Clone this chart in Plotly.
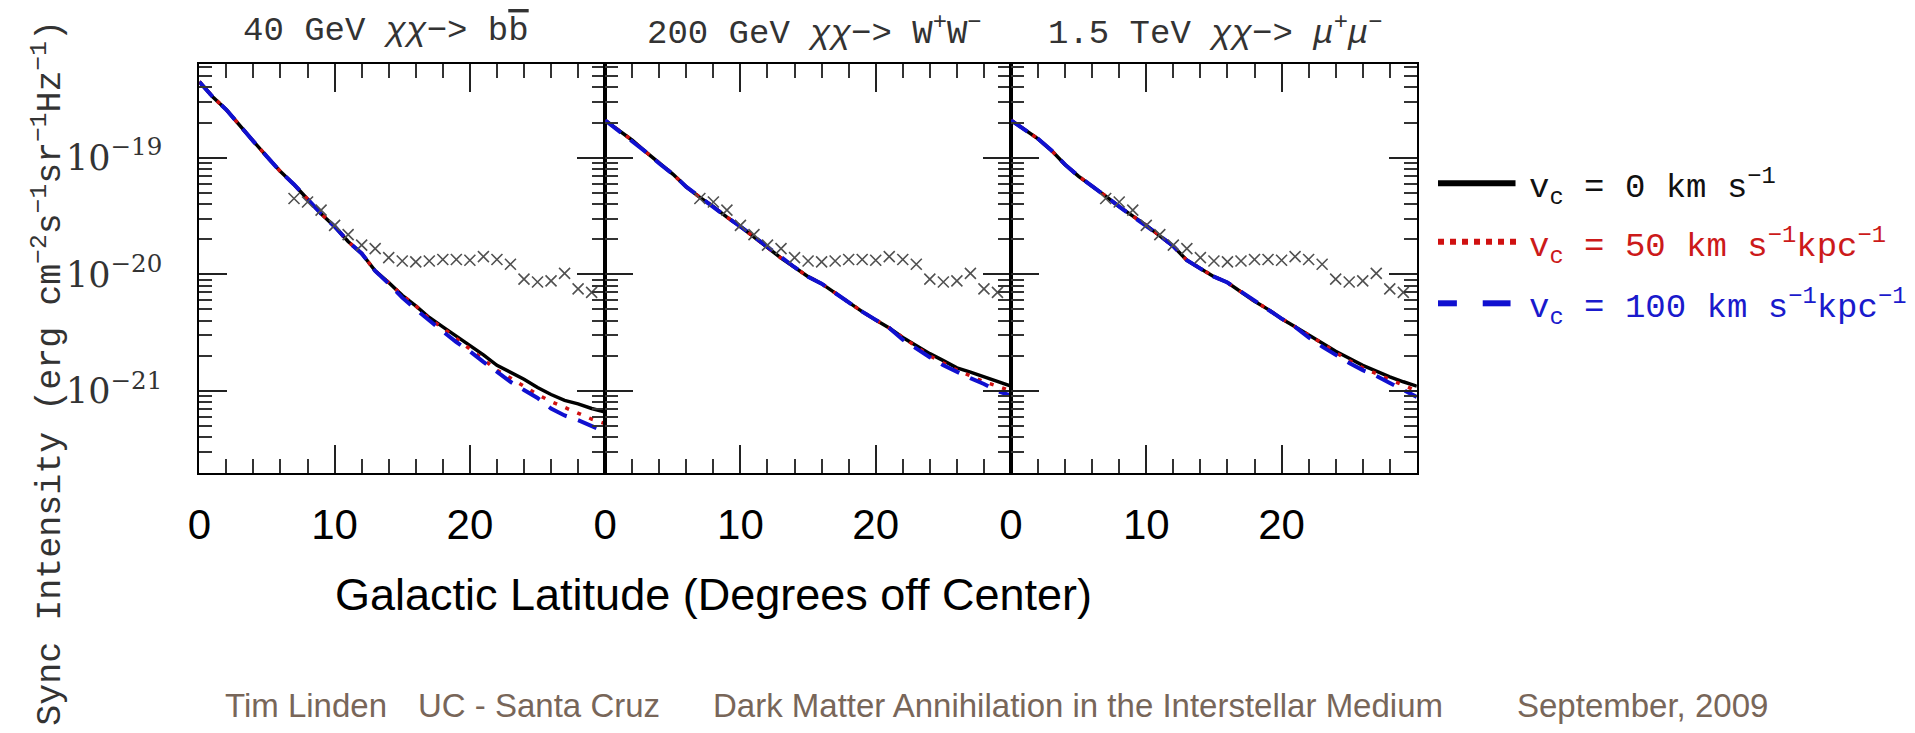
import plotly.graph_objects as go

# Galactic latitude grid (degrees off centre) for the model curves
latitude = list(range(0, 31))

# Synchrotron intensity (erg cm^-2 s^-1 sr^-1 Hz^-1) for each convection velocity
bb40_v0 = [4.47e-19, 3.31e-19, 2.57e-19, 1.86e-19, 1.38e-19, 1.02e-19, 7.59e-20, 5.89e-20,
           4.37e-20, 3.31e-20, 2.57e-20, 1.91e-20, 1.51e-20, 1.07e-20, 8.51e-21, 6.61e-21,
           5.37e-21, 4.27e-21, 3.55e-21, 2.95e-21, 2.45e-21, 2.04e-21, 1.66e-21, 1.45e-21,
           1.26e-21, 1.07e-21, 9.33e-22, 8.32e-22, 7.76e-22, 7.08e-22, 6.61e-22]
bb40_v50 = [4.47e-19, 3.31e-19, 2.57e-19, 1.86e-19, 1.38e-19, 1.02e-19, 7.59e-20, 5.89e-20,
            4.37e-20, 3.31e-20, 2.57e-20, 1.91e-20, 1.51e-20, 1.07e-20, 8.51e-21, 6.61e-21,
            5.37e-21, 4.17e-21, 3.47e-21, 2.82e-21, 2.29e-21, 1.86e-21, 1.51e-21, 1.29e-21,
            1.10e-21, 9.33e-22, 8.13e-22, 7.24e-22, 6.46e-22, 5.75e-22, 5.25e-22]
bb40_v100 = [4.47e-19, 3.31e-19, 2.57e-19, 1.86e-19, 1.38e-19, 1.02e-19, 7.59e-20, 5.89e-20,
             4.37e-20, 3.31e-20, 2.57e-20, 1.91e-20, 1.51e-20, 1.07e-20, 8.32e-21, 6.31e-21,
             5.01e-21, 3.98e-21, 3.24e-21, 2.63e-21, 2.19e-21, 1.78e-21, 1.45e-21, 1.20e-21,
             1.02e-21, 8.71e-22, 7.08e-22, 6.17e-22, 5.62e-22, 5.01e-22, 4.47e-22]

ww200_v0 = [2.09e-19, 1.70e-19, 1.41e-19, 1.12e-19, 8.91e-20, 7.24e-20, 5.62e-20, 4.57e-20,
            3.80e-20, 3.09e-20, 2.57e-20, 2.09e-20, 1.70e-20, 1.38e-20, 1.15e-20, 9.55e-21,
            8.32e-21, 6.92e-21, 5.75e-21, 4.79e-21, 4.07e-21, 3.47e-21, 2.88e-21, 2.45e-21,
            2.09e-21, 1.82e-21, 1.58e-21, 1.45e-21, 1.32e-21, 1.20e-21, 1.10e-21]
ww200_v50 = [2.09e-19, 1.70e-19, 1.41e-19, 1.12e-19, 8.91e-20, 7.24e-20, 5.62e-20, 4.57e-20,
             3.80e-20, 3.09e-20, 2.57e-20, 2.09e-20, 1.70e-20, 1.38e-20, 1.15e-20, 9.55e-21,
             8.32e-21, 6.92e-21, 5.75e-21, 4.79e-21, 4.07e-21, 3.47e-21, 2.88e-21, 2.40e-21,
             2.00e-21, 1.74e-21, 1.51e-21, 1.35e-21, 1.20e-21, 1.10e-21, 1.00e-21]
ww200_v100 = [2.09e-19, 1.70e-19, 1.41e-19, 1.12e-19, 8.91e-20, 7.24e-20, 5.62e-20, 4.57e-20,
              3.80e-20, 3.09e-20, 2.57e-20, 2.09e-20, 1.70e-20, 1.38e-20, 1.15e-20, 9.55e-21,
              8.32e-21, 6.92e-21, 5.75e-21, 4.79e-21, 4.07e-21, 3.47e-21, 2.75e-21, 2.29e-21,
              1.95e-21, 1.66e-21, 1.45e-21, 1.29e-21, 1.15e-21, 1.00e-21, 9.12e-22]

mumu1500_v0 = [2.09e-19, 1.74e-19, 1.45e-19, 1.15e-19, 8.71e-20, 6.92e-20, 5.75e-20, 4.68e-20,
               3.80e-20, 3.16e-20, 2.63e-20, 2.14e-20, 1.74e-20, 1.32e-20, 1.12e-20, 9.55e-21,
               8.51e-21, 7.08e-21, 5.89e-21, 5.01e-21, 4.17e-21, 3.55e-21, 3.02e-21, 2.57e-21,
               2.19e-21, 1.91e-21, 1.66e-21, 1.48e-21, 1.32e-21, 1.20e-21, 1.10e-21]
mumu1500_v50 = [2.09e-19, 1.74e-19, 1.45e-19, 1.15e-19, 8.71e-20, 6.92e-20, 5.75e-20, 4.68e-20,
                3.80e-20, 3.16e-20, 2.63e-20, 2.14e-20, 1.74e-20, 1.32e-20, 1.12e-20, 9.55e-21,
                8.51e-21, 7.08e-21, 5.89e-21, 5.01e-21, 4.17e-21, 3.55e-21, 3.02e-21, 2.57e-21,
                2.14e-21, 1.82e-21, 1.58e-21, 1.41e-21, 1.26e-21, 1.12e-21, 1.00e-21]
mumu1500_v100 = [2.09e-19, 1.74e-19, 1.45e-19, 1.15e-19, 8.71e-20, 6.92e-20, 5.75e-20, 4.68e-20,
                 3.80e-20, 3.16e-20, 2.63e-20, 2.14e-20, 1.74e-20, 1.32e-20, 1.12e-20, 9.55e-21,
                 8.51e-21, 7.08e-21, 5.89e-21, 5.01e-21, 4.17e-21, 3.55e-21, 2.88e-21, 2.40e-21,
                 2.04e-21, 1.74e-21, 1.51e-21, 1.35e-21, 1.17e-21, 1.02e-21, 8.91e-22]

# Observed haze intensity (crosses), same in every panel
haze_lat = [7, 8, 9, 10, 11, 12, 13, 14, 15, 16, 17, 18, 19, 20, 21, 22, 23, 24, 25, 26, 27, 28, 29]
haze_val = [4.47e-20, 4.17e-20, 3.55e-20, 2.63e-20, 2.19e-20, 1.78e-20, 1.66e-20, 1.39e-20,
            1.30e-20, 1.28e-20, 1.30e-20, 1.34e-20, 1.34e-20, 1.32e-20, 1.42e-20, 1.34e-20,
            1.22e-20, 9.1e-21, 8.6e-21, 8.8e-21, 1.02e-20, 7.5e-21, 7.0e-21]

panel_titles = [
    "40 GeV <i>χχ</i>−> b<span style='text-decoration:overline'>b</span>",
    "200 GeV <i>χχ</i>−> W<sup>+</sup>W<sup>−</sup>",
    "1.5 TeV <i>χχ</i>−> <i>μ</i><sup>+</sup><i>μ</i><sup>−</sup>",
]
panels = [
    (bb40_v0, bb40_v50, bb40_v100),
    (ww200_v0, ww200_v50, ww200_v100),
    (mumu1500_v0, mumu1500_v50, mumu1500_v100),
]

x_major = [0, 10, 20]
x_major_text = ["0", "10", "20"]
x_minor = [2, 4, 6, 8, 12, 14, 16, 18, 22, 24, 26, 28]
y_major = [1e-21, 1e-20, 1e-19]
y_major_text = ["10<sup>−21</sup>", "10<sup>−20</sup>", "10<sup>−19</sup>"]
y_minor = [k * 10.0 ** n for n in range(-22, -18) for k in range(2, 10)]

legend_labels = [
    "v<sub>c</sub> = 0 km s<sup>−1</sup>",
    "v<sub>c</sub> = 50 km s<sup>−1</sup>kpc<sup>−1</sup>",
    "v<sub>c</sub> = 100 km s<sup>−1</sup>kpc<sup>−1</sup>",
]
footer_parts = ["Tim Linden", "UC - Santa Cruz",
                "Dark Matter Annihilation in the Interstellar Medium", "September, 2009"]

# ---- page geometry (pixels) ----
W, H = 1915, 733
panel_left = [188.5, 596.9, 1005.3]
panel_w = 408.4
top_px, bottom_px = 64.3, 472.7
title_x = [376, 808, 1211]


def px(x):
    return x / W


def py(y):
    return 1 - y / H


BLACK = "#000000"
RED = "#d01010"
BLUE = "#1010d0"

fig = go.Figure()

for i, (v0, v50, v100) in enumerate(panels):
    xa = "x" if i == 0 else f"x{i + 1}"
    ya = "y" if i == 0 else f"y{i + 1}"
    fig.add_trace(go.Scatter(x=latitude, y=v0, mode="lines", xaxis=xa, yaxis=ya,
                             line=dict(color=BLACK, width=3.5), showlegend=False))
    fig.add_trace(go.Scatter(x=latitude, y=v50, mode="lines", xaxis=xa, yaxis=ya,
                             line=dict(color=RED, width=3.5, dash="4px,9px"), showlegend=False))
    fig.add_trace(go.Scatter(x=latitude, y=v100, mode="lines", xaxis=xa, yaxis=ya,
                             line=dict(color=BLUE, width=4, dash="20px,12px"), showlegend=False))
    fig.add_trace(go.Scatter(x=haze_lat, y=haze_val, mode="markers", xaxis=xa, yaxis=ya,
                             marker=dict(symbol="x-thin", size=11,
                                         line=dict(color="#505050", width=1.6)),
                             showlegend=False))

axis_common = dict(showline=True, linecolor="black", linewidth=2, mirror="ticks",
                   ticks="inside", tickcolor="#222", tickwidth=2, ticklen=28,
                   showgrid=False, zeroline=False)

layout_axes = {}
for i in range(3):
    xkey = "xaxis" if i == 0 else f"xaxis{i + 1}"
    ykey = "yaxis" if i == 0 else f"yaxis{i + 1}"
    xa_anchor = "y" if i == 0 else f"y{i + 1}"
    ya_anchor = "x" if i == 0 else f"x{i + 1}"
    x0 = panel_left[i]
    layout_axes[xkey] = dict(
        axis_common, domain=[px(x0), px(x0 + panel_w)], range=[0, 30], anchor=xa_anchor,
        tickmode="array", tickvals=x_major, ticktext=x_major_text,
        tickfont=dict(family="Liberation Sans, Arial", size=42, color="black"),
        ticklabelstandoff=14,
        minor=dict(ticks="inside", tickvals=x_minor, ticklen=14, tickwidth=1.5, tickcolor="#333"),
    )
    layout_axes[ykey] = dict(
        axis_common, type="log", domain=[py(bottom_px), py(top_px)], range=[-21.70, -18.20],
        anchor=ya_anchor, tickmode="array", tickvals=y_major, ticktext=y_major_text,
        showticklabels=(i == 0),
        tickfont=dict(family="DejaVu Serif", size=35, color="#333"),
        ticklabelstandoff=28,
        minor=dict(ticks="inside", tickvals=y_minor, ticklen=13, tickwidth=1.5, tickcolor="#333"),
    )

annotations = []
for t, tx in zip(panel_titles, title_x):
    annotations.append(dict(text=t, x=px(tx), y=py(31),
                            xref="paper", yref="paper", xanchor="center", yanchor="middle",
                            showarrow=False,
                            font=dict(family="Liberation Mono", size=34, color="#333")))

annotations.append(dict(
    text="Sync Intensity (erg cm<sup>−2</sup>s<sup>−1</sup>sr<sup>−1</sup>Hz<sup>−1</sup>)",
    x=px(37), y=py(373), xref="paper", yref="paper", xanchor="center", yanchor="middle",
    textangle=-90, showarrow=False,
    font=dict(family="Liberation Mono", size=35, color="#333")))

annotations.append(dict(
    text="Galactic Latitude (Degrees off Center)", x=px(706), y=py(594),
    xref="paper", yref="paper", xanchor="center", yanchor="middle", showarrow=False,
    font=dict(family="Liberation Sans, Arial", size=45, color="black")))

# legend: sample lines plus labels
legend_y = [183.3, 241.7, 303.3]
legend_colors = ["#111111", "#cc1a1a", "#1a1acc"]
shapes = [
    dict(type="line", xref="paper", yref="paper", x0=px(1435), x1=px(1513),
         y0=py(legend_y[0]), y1=py(legend_y[0]), line=dict(color=BLACK, width=6)),
    dict(type="line", xref="paper", yref="paper", x0=px(1435), x1=px(1516),
         y0=py(legend_y[1]), y1=py(legend_y[1]), line=dict(color=RED, width=6, dash="6px,6px")),
    dict(type="line", xref="paper", yref="paper", x0=px(1435), x1=px(1454),
         y0=py(legend_y[2]), y1=py(legend_y[2]), line=dict(color=BLUE, width=6)),
    dict(type="line", xref="paper", yref="paper", x0=px(1480), x1=px(1508),
         y0=py(legend_y[2]), y1=py(legend_y[2]), line=dict(color=BLUE, width=6)),
]
for lab, yy, col in zip(legend_labels, legend_y, legend_colors):
    annotations.append(dict(text=lab, x=px(1525), y=py(yy + 4), xref="paper", yref="paper",
                            xanchor="left", yanchor="middle", showarrow=False,
                            font=dict(family="Liberation Mono", size=34, color=col)))

footer_x = [212, 407, 703, 1512]
for txt, fx in zip(footer_parts, footer_x):
    annotations.append(dict(text=txt, x=px(fx), y=py(705), xref="paper", yref="paper",
                            xanchor="left", yanchor="middle", showarrow=False,
                            font=dict(family="Liberation Sans", size=33, color="#786659")))

fig.update_layout(
    width=W, height=H, autosize=False,
    margin=dict(l=0, r=0, t=0, b=0, pad=0),
    paper_bgcolor="white", plot_bgcolor="white",
    showlegend=False,
    annotations=annotations, shapes=shapes,
    **layout_axes,
)

fig.write_html("out.html", config={"displayModeBar": False})
